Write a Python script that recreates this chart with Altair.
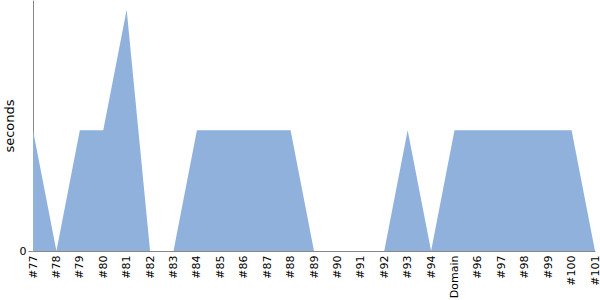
import altair as alt
import pandas as pd

categories = ["#77", "#78", "#79", "#80", "#81", "#82", "#83", "#84", "#85", "#86",
              "#87", "#88", "#89", "#90", "#91", "#92", "#93", "#94", "Domain", "#96",
              "#97", "#98", "#99", "#100", "#101"]
seconds = [1, 0, 1, 1, 2, 0, 0, 1, 1, 1,
           1, 1, 0, 0, 0, 0, 1, 0, 1, 1,
           1, 1, 1, 1, 0]

df = pd.DataFrame({"build": categories, "seconds": seconds})

chart = alt.Chart(df).mark_area(color="#8fb1db", opacity=1).encode(
    x=alt.X("build:N", sort=categories, title=None,
            scale=alt.Scale(type="point", padding=0),
            axis=alt.Axis(labelAngle=-90, ticks=False, labelPadding=4, labelFontSize=11,
                          labelColor="black", domainColor="#888", grid=False)),
    y=alt.Y("seconds:Q", title="seconds",
            scale=alt.Scale(domain=[0, 2.08], nice=False),
            axis=alt.Axis(values=[0], grid=False, domainColor="#888", tickColor="#888",
                          labelFontSize=11, labelColor="black", titleFontSize=13,
                          titleFontWeight="normal", titlePadding=3)),
).properties(
    width=562, height=251,
    padding={"left": 33, "top": 0, "right": 5, "bottom": 49},
    autosize=alt.AutoSizeParams(type="none"),
).configure(font="DejaVu Sans").configure_view(stroke=None)

chart.save("out.html", embed_options={"renderer": "svg", "actions": False})
